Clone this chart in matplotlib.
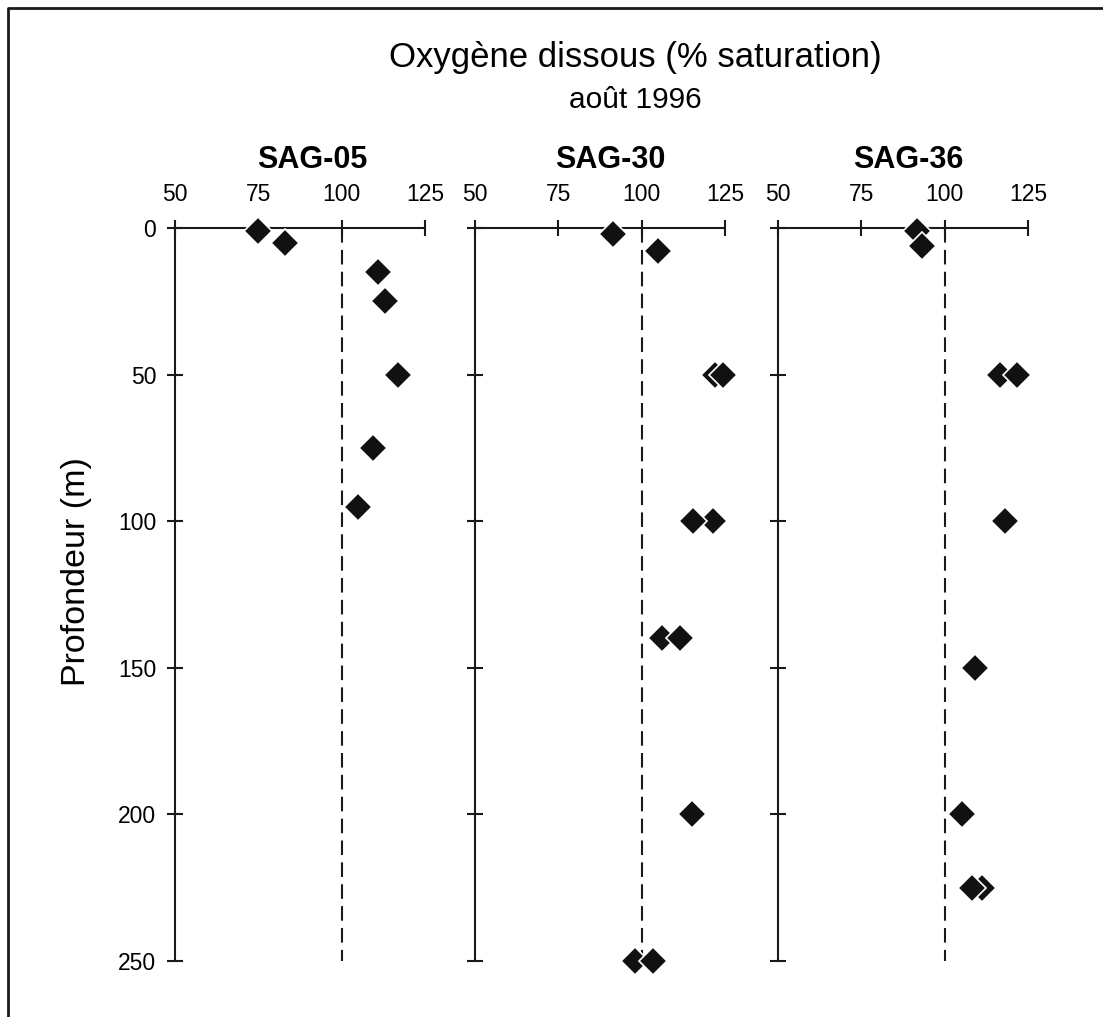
import matplotlib
matplotlib.use("Agg")
import matplotlib.pyplot as plt
from matplotlib.lines import Line2D

plt.rcParams['font.family'] = ['Liberation Sans', 'DejaVu Sans']

# station names and profiles (depth m, % saturation), two casts per station
stations = ["SAG-05", "SAG-30", "SAG-36"]

sag05_depth_a = [1, 5, 15, 25, 50, 75, 95]
sag05_oxy_a = [75, 83, 111, 113, 117, 109.5, 105]
sag05_depth_b = []
sag05_oxy_b = []

sag30_depth_a = [2, 50, 100, 140, 200, 250]
sag30_oxy_a = [91.5, 122, 121.5, 106, 115, 98]
sag30_depth_b = [8, 50, 100, 140, 250]
sag30_oxy_b = [105, 124.5, 115.5, 111.5, 103.5]

sag36_depth_a = [1, 50, 225]
sag36_oxy_a = [91.7, 116.5, 111.2]
sag36_depth_b = [6, 50, 100, 150, 200, 225]
sag36_oxy_b = [93.2, 121.7, 118, 109, 105.2, 108.2]

xticks = [50, 75, 100, 125]
yticks = [0, 50, 100, 150, 200, 250]

profiles = [
    [(sag05_oxy_a, sag05_depth_a), (sag05_oxy_b, sag05_depth_b)],
    [(sag30_oxy_a, sag30_depth_a), (sag30_oxy_b, sag30_depth_b)],
    [(sag36_oxy_a, sag36_depth_a), (sag36_oxy_b, sag36_depth_b)],
]

fig = plt.figure(figsize=(11.03, 10.17), dpi=100)

lefts = [175, 475, 778]
width = 250
top, bottom = 228, 961
title_x = [312, 610, 908]

for i, name in enumerate(stations):
    ax = fig.add_axes([lefts[i] / 1103, 1 - bottom / 1017, width / 1103, (bottom - top) / 1017])
    ax.set_xlim(50, 125)
    ax.set_ylim(250, 0)
    for s in ['right', 'bottom']:
        ax.spines[s].set_visible(False)
    for s in ['top', 'left']:
        ax.spines[s].set_linewidth(1.5)
        ax.spines[s].set_color('#1a1a1a')
    ax.xaxis.tick_top()
    ax.set_xticks(xticks)
    ax.set_yticks(yticks)
    ax.tick_params(axis='both', direction='inout', length=11, width=1.5, color='#1a1a1a',
                   labelsize=16.5, pad=8)
    ax.tick_params(axis='x', pad=10)
    if i > 0:
        ax.set_yticklabels([])
    ax.plot([100, 100], [0, 250], color='#1a1a1a', lw=1.5, dashes=(7, 3.5), zorder=1)
    for k, (xs, ys) in enumerate(profiles[i]):
        ax.plot(xs, ys, linestyle='none', marker='D', markersize=14.5,
                markerfacecolor='#111111', markeredgecolor='white', markeredgewidth=1.2,
                zorder=3 + k, clip_on=False)
    ax.patch.set_alpha(0)
    fig.text(title_x[i] / 1103, 1 - 160 / 1017, name, ha='center', va='center',
             fontsize=22, fontweight='bold')

fig.text(77 / 1103, 1 - 572 / 1017, "Profondeur (m)", rotation=90, ha='center', va='center',
         fontsize=24.5)
fig.text(635 / 1103, 1 - 57 / 1017, "Oxygène dissous (% saturation)", ha='center', va='center',
         fontsize=25)
fig.text(635 / 1103, 1 - 100 / 1017, "août 1996", ha='center', va='center', fontsize=21.5)

# partial frame around the figure (top and left edges)
fx = 8 / 1103
fy = 1 - 8 / 1017
fig.add_artist(Line2D([fx, fx, 1], [0, fy, fy], transform=fig.transFigure, color='#1a1a1a', lw=2))

fig.savefig("out.png", dpi=100)
